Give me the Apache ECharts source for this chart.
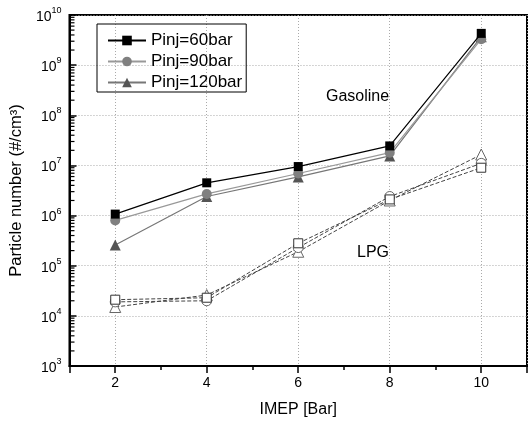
<!DOCTYPE html>
<html><head><meta charset="utf-8">
<script src="https://cdn.jsdelivr.net/npm/echarts@6/dist/echarts.min.js"></script>
<style>html,body{margin:0;padding:0;background:#fff}#c{width:530px;height:423px}</style>
</head><body><div id="c"></div>
<script>
const imep = [2, 4, 6, 8, 10];
const legendNames = ['Pinj=60bar', 'Pinj=90bar', 'Pinj=120bar'];
const gas60 = [1.07e6, 4.5e6, 9.5e6, 2.45e7, 4.3e9];
const gas90 = [8.0e5, 2.7e6, 6.9e6, 1.8e7, 3.3e9];
const gas120 = [2.6e5, 2.4e6, 5.9e6, 1.55e7, 3.7e9];
const lpg60 = [2.1e4, 2.3e4, 2.8e5, 2.1e6, 9.0e6];
const lpg90 = [1.9e4, 2.0e4, 2.3e5, 2.4e6, 1.1e7];
const lpg120 = [1.5e4, 2.6e4, 1.9e5, 2.0e6, 1.65e7];
const fuelLabels = ['Gasoline', 'LPG'];
const xTitle = 'IMEP [Bar]';
const yTitle = 'Particle number (#/cm³)';
const yDecades = [3, 4, 5, 6, 7, 8, 9];
const yMinorMultipliers = [2, 3, 4, 5, 6, 7, 8, 9];

const FONT = 'Liberation Sans, Arial, sans-serif';
const pairs = arr => imep.map((x, i) => [x, arr[i]]);
const minorTickValues = [];
yDecades.forEach(d => yMinorMultipliers.forEach(m => minorTickValues.push([1, m * Math.pow(10, d)])));

function gasSeries(name, data, symbol, size, color, lineColor, z) {
  return {
    name: name, type: 'line', data: pairs(data), symbol: symbol, symbolSize: size,
    itemStyle: { color: color }, lineStyle: { color: lineColor, width: 1.2 }, z: z
  };
}
function lpgSeries(name, data, symbol, size, color, z) {
  return {
    name: name, type: 'line', data: pairs(data), symbol: symbol, symbolSize: size,
    itemStyle: { color: '#fff', borderColor: color, borderWidth: 1 },
    lineStyle: { color: '#444', width: 1, type: [4, 2] }, z: z
  };
}

const chart = echarts.init(document.getElementById('c'), null, { renderer: 'canvas' });
chart.setOption({
  animation: false,
  backgroundColor: '#fff',
  textStyle: { fontFamily: FONT },
  grid: { left: 68, top: 15, right: 1, bottom: 57, show: true, borderColor: '#000', borderWidth: 2, containLabel: false },
  legend: {
    data: legendNames, orient: 'vertical', left: 97, top: 24,
    borderColor: '#000', borderWidth: 1, padding: [8, 4, 1, 10], itemGap: 4,
    itemWidth: 38, itemHeight: 12,
    textStyle: { fontSize: 17, color: '#000', fontFamily: FONT }
  },
  xAxis: [{
    type: 'value', min: 1, max: 11, splitNumber: 5,
    axisLine: { lineStyle: { color: '#000', width: 2 } },
    axisTick: { length: 7, lineStyle: { color: '#000', width: 1.5 } },
    axisLabel: { fontSize: 14, color: '#000', margin: 10, formatter: v => (v % 2 === 0 ? String(v) : '') },
    splitLine: { show: true, lineStyle: { color: '#aaa', type: [1, 2], width: 1 } },
    name: xTitle, nameLocation: 'middle', nameGap: 36,
    nameTextStyle: { fontSize: 16, color: '#000', fontFamily: FONT }
  }, {
    type: 'value', min: 1, max: 11, interval: 1, position: 'bottom',
    axisLine: { show: false },
    axisTick: { length: 4, lineStyle: { color: '#000', width: 1.5 } },
    axisLabel: { show: false }, splitLine: { show: false }
  }],
  yAxis: {
    type: 'log', logBase: 10, min: 1e3, max: 1e10,
    axisLine: { lineStyle: { color: '#000', width: 2 } },
    axisTick: { inside: true, length: 7, lineStyle: { color: '#000', width: 1.5 } },
    axisLabel: {
      margin: 8, color: '#000',
      formatter: v => '{b|10}{s|' + Math.round(Math.log10(v)) + '}',
      rich: {
        b: { fontSize: 14, fontFamily: FONT, color: '#000', lineHeight: 18, verticalAlign: 'bottom' },
        s: { fontSize: 9, fontFamily: FONT, color: '#000', lineHeight: 18, verticalAlign: 'top' }
      }
    },
    splitLine: { show: true, lineStyle: { color: '#aaa', type: [1, 2], width: 1 } },
    name: yTitle, nameLocation: 'middle', nameGap: 42,
    nameTextStyle: { fontSize: 16.5, color: '#000', fontFamily: FONT }
  },
  graphic: [
    { type: 'text', left: 326, top: 89, style: { text: fuelLabels[0], fontSize: 16, fill: '#000', fontFamily: FONT } },
    { type: 'text', left: 357, top: 245, style: { text: fuelLabels[1], fontSize: 16, fill: '#000', fontFamily: FONT } }
  ],
  series: [
    {
      name: 'yMinorTicks', type: 'custom', data: minorTickValues, silent: true, clip: false, z: 20,
      encode: { x: 0, y: 1 },
      renderItem: (params, api) => {
        const p = api.coord([api.value(0), api.value(1)]);
        return { type: 'line', shape: { x1: p[0], y1: p[1], x2: p[0] + 5, y2: p[1] }, style: { stroke: '#000', lineWidth: 1.2 } };
      }
    },
    lpgSeries('LPG Pinj=120bar', lpg120, 'triangle', 11, '#666', 3),
    lpgSeries('LPG Pinj=90bar', lpg90, 'circle', 10, '#666', 4),
    lpgSeries('LPG Pinj=60bar', lpg60, 'rect', 9, '#333', 5),
    gasSeries(legendNames[2], gas120, 'triangle', 11, '#555', '#777', 6),
    gasSeries(legendNames[1], gas90, 'circle', 10, '#808080', '#999', 7),
    gasSeries(legendNames[0], gas60, 'rect', 9, '#000', '#000', 8)
  ]
});
</script></body></html>
